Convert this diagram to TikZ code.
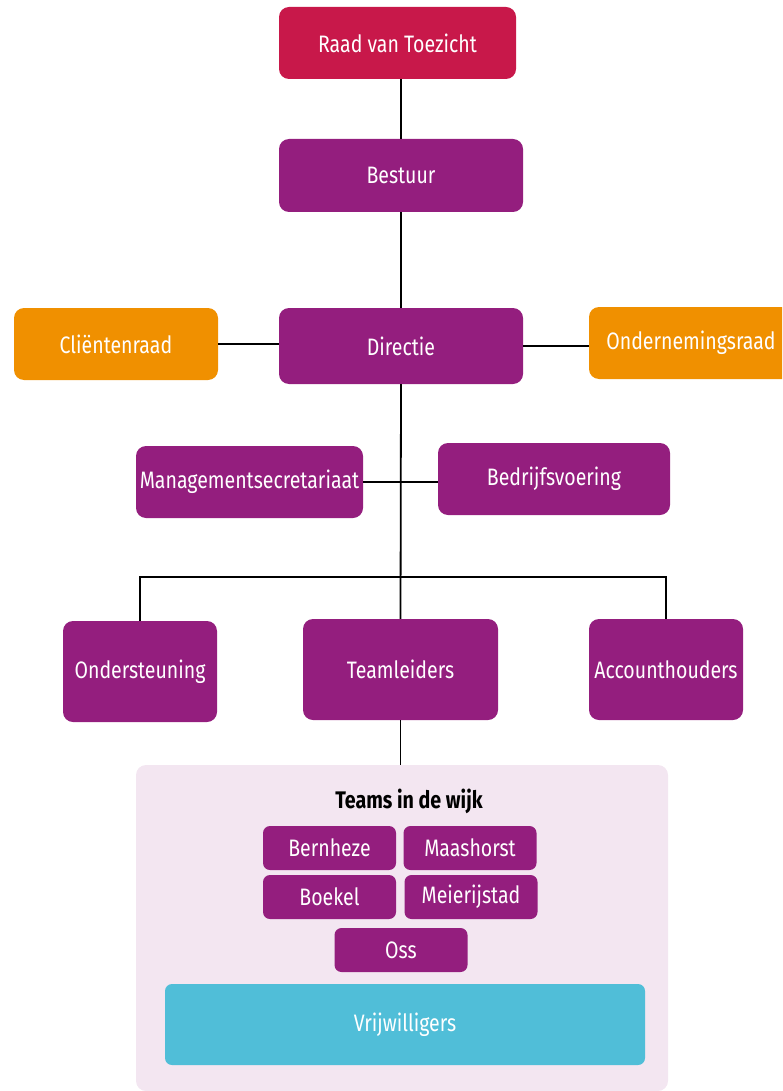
\documentclass[tikz,border=0pt]{standalone}
\usepackage{fontspec}
\setmainfont{Fira Sans}[FakeStretch=0.82]
\usepackage{tikz}
\usetikzlibrary{positioning}

\definecolor{toezicht}{HTML}{C8184A}
\definecolor{paars}{HTML}{941E7E}
\definecolor{oranje}{HTML}{F09000}
\definecolor{blauw}{HTML}{50BED8}
\definecolor{wijk}{HTML}{F3E6F1}

\tikzset{
    blok/.style={fill=#1,rounded corners=10pt,text=white,align=center,inner sep=0pt,font=\fontsize{23.8}{28}\selectfont},
    klein/.style={blok=paars,rounded corners=7pt,minimum width=133pt,minimum height=44pt},
    lijn/.style={line width=1.8pt,black}
}

\begin{document}
\begin{tikzpicture}[x=1pt,y=-1pt]
    \useasboundingbox (0,0) rectangle (782,1091);
    \clip (0,0) rectangle (782,1091);
    % bovenste lagen
    \node[blok=toezicht,minimum width=237pt,minimum height=72pt] (raad) at (397.5,43) {Raad van Toezicht};
    \node[blok=paars,minimum width=244pt,minimum height=73pt] (bestuur) at (401,175.5) {Bestuur};
    \node[blok=paars,minimum width=244pt,minimum height=76pt] (directie) at (401,346) {Directie};
    \node[blok=oranje,minimum width=204pt,minimum height=72pt] (client) at (116,344) {Cliëntenraad};
    \node[blok=oranje,minimum width=204pt,minimum height=72pt] (or) at (691,343) {Ondernemingsraad};
    % staf
    \node[blok=paars,minimum width=227pt,minimum height=72pt] (secr) at (249.5,482) {Managementsecretariaat};
    \node[blok=paars,minimum width=232pt,minimum height=72pt] (bedrijf) at (554,479) {Bedrijfsvoering};
    % uitvoering
    \node[blok=paars,minimum width=154pt,minimum height=101pt] (onderst) at (140,671.5) {Ondersteuning};
    \node[blok=paars,minimum width=195pt,minimum height=101pt] (teamleid) at (400.5,669.5) {Teamleiders};
    \node[blok=paars,minimum width=154pt,minimum height=101pt] (account) at (666,669.5) {Accounthouders};
    \coordinate (balk) at (402,577);
    % teams in de wijk
    \node[blok=wijk,minimum width=532pt,minimum height=326pt] (wijk) at (402,928) {};
    \node[font=\fontsize{24}{28}\selectfont\bfseries] (titel) at (409,801) {Teams in de wijk};
    \node[klein] (bernheze) at (329.5,848) {Bernheze};
    \node[klein] (maashorst) at (470,848) {Maashorst};
    \node[klein] (boekel) at (329.5,897) {Boekel};
    \node[klein] (meierij) at (471,897) {Meierijstad};
    \node[klein] (oss) at (401,950) {Oss};
    \node[blok=blauw,rounded corners=7pt,minimum width=480pt,minimum height=81pt] (vrijw) at (405,1024.5) {Vrijwilligers};
    % lijnen
    \draw[lijn] (bestuur.north) -- (bestuur.north |- raad.south);
    \draw[lijn] (bestuur.south) -- (directie.north);
    \draw[lijn] (client.east) -- (client.east -| directie.west);
    \draw[lijn] (directie.east) -- (directie.east -| or.west);
    \draw[lijn] (directie.south) -- (teamleid.north);
    \draw[lijn] (secr.east) -- (secr.east -| bedrijf.west);
    \draw[lijn] (onderst.north) |- (balk) -| (account.north);
    \draw[lijn] (teamleid.south) -- (teamleid.south |- wijk.north);
\end{tikzpicture}
\end{document}
